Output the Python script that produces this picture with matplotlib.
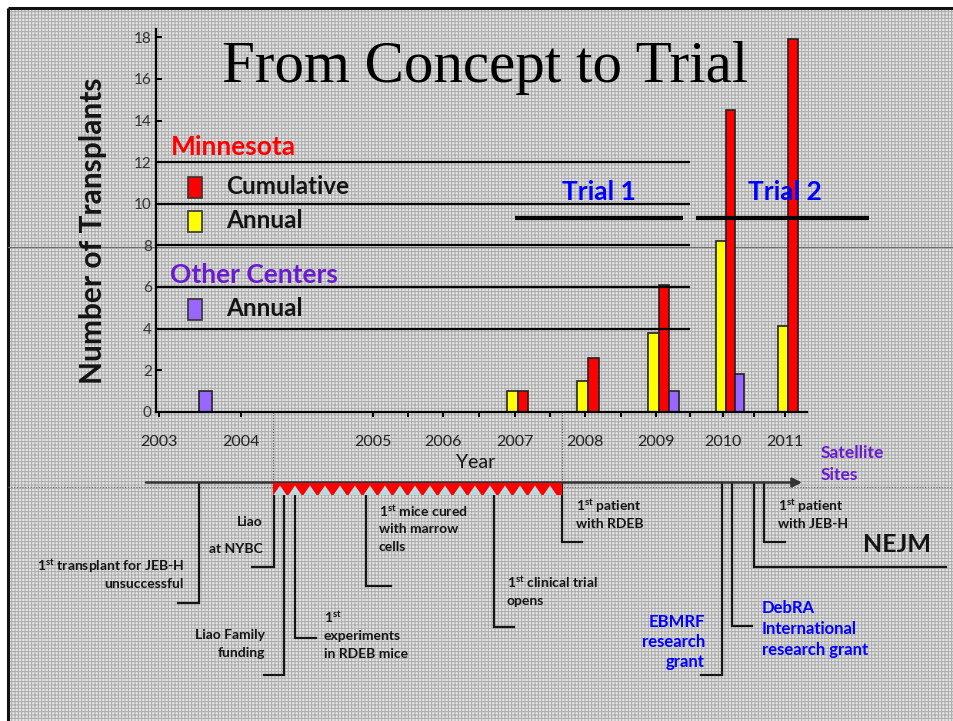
import numpy as np
import matplotlib
matplotlib.use('Agg')
import matplotlib.pyplot as plt
from matplotlib.patches import Rectangle
from matplotlib.collections import PolyCollection

# ---- data ----
years = [2007, 2008, 2009, 2010, 2011]
mn_annual = [1, 1.5, 3.8, 8.2, 4.1]
mn_cumulative = [1, 2.6, 6.1, 14.5, 17.9]
other_years = [2003.3, 2009, 2010]
other_annual = [1, 1, 1.8]

tick_years = [2003, 2004, 2005, 2006, 2007, 2008, 2009, 2010, 2011]
tick_labels = ['2003', '2004', '2005', '2006', '2007', '2008', '2009', '2010', '2011']
half_years = [2005.5, 2006.5, 2007.5, 2008.5, 2009.5, 2010.5]
y_ticks = [0, 2, 4, 6, 8, 10, 12, 14, 16, 18]

box_levels = [12, 10, 8, 6, 4]
trial_names = ['Trial 1', 'Trial 2']
trial_start = [2007.0, 2009.6]
trial_end = [2009.4, 2012.2]
trial_label_x = [2008.2, 2011.0]
trial_level = 9.3

RED = '#ff0000'
YELLOW = '#ffff00'
LAVENDER = '#9966ff'
PURPLE = '#6a1bd1'
BLUE = '#0000ff'
INK = '#141414'

plt.rcParams['font.family'] = ['Lato', 'DejaVu Sans']
plt.rcParams['mathtext.fontset'] = 'custom'
plt.rcParams['mathtext.rm'] = 'Lato'
plt.rcParams['mathtext.bf'] = 'Lato:bold'
plt.rcParams['hatch.color'] = '#ababab'
plt.rcParams['hatch.linewidth'] = 0.7

W, H = 954, 721
fig = plt.figure(figsize=(W / 100, H / 100), dpi=100, facecolor='white')

# background layer in pixel coordinates
bg = fig.add_axes([0, 0, 1, 1], zorder=0)
bg.set_xlim(0, W)
bg.set_ylim(H, 0)
bg.axis('off')
bg.add_patch(Rectangle((8, 8), W, H, facecolor='#e4e4e4', edgecolor='#ababab',
                       hatch='+++++', lw=0))
bg.plot([8, W], [8, 8], color='#111', lw=2.2, solid_capstyle='butt')
bg.plot([8, 8], [8, H], color='#111', lw=2.2, solid_capstyle='butt')
# slide guide lines
bg.plot([8, W], [247, 247], color='#6e6e6e', lw=0.8)
bg.plot([8, W], [487, 487], color='#6e6e6e', lw=0.8, ls=(0, (1, 1.5)))
bg.plot([273, 273], [412, 482], color='#555', lw=0.8, ls=(0, (1, 1.5)))
bg.plot([562, 562], [412, 482], color='#555', lw=0.8, ls=(0, (1, 1.5)))

# main chart
ax = fig.add_axes([156 / W, 1 - 411.7 / H, 651 / W, 382.7 / H], zorder=1)
ax.patch.set_alpha(0)

brk_years = [2002.5, 2003, 2004, 2005, 2006, 2007, 2008, 2009, 2010, 2011, 2013]
brk_pos = [118, 159, 241, 373, 443, 515, 585, 656, 723, 785, 925]


def fwd(x):
	return np.interp(x, brk_years, brk_pos)


def inv(x):
	return np.interp(x, brk_pos, brk_years)


ax.set_xscale('function', functions=(fwd, inv))
ax.set_xlim(2002.963, 2011.314)
ax.set_ylim(0, 18.4)

w = 0.15
off = 0.04
yrs = np.array(years, dtype=float)
ax.bar(yrs + off - w / 2, mn_annual, width=w, color=YELLOW, edgecolor='#222', lw=1.2, zorder=2)
ax.bar(yrs + off + w / 2, mn_cumulative, width=w, color=RED, edgecolor='#222', lw=1.2, zorder=2)
ax.bar(np.array(other_years) + off + 1.5 * w, other_annual, width=w, color=LAVENDER,
       edgecolor='#222', lw=1.2, zorder=2)

ax.hlines(box_levels, 2002.963, 2009.5, color='black', lw=1.6, zorder=3)
for name, a, b, tx in zip(trial_names, trial_start, trial_end, trial_label_x):
	ax.plot([a, b], [trial_level, trial_level], color='black', lw=3, zorder=4,
	        solid_capstyle='butt', clip_on=False)
	ax.text(tx, 10.55, name, color=BLUE, fontsize=19, fontweight='bold',
	        ha='center', va='center', zorder=5, clip_on=False)

for s in ['top', 'right']:
	ax.spines[s].set_visible(False)
for s in ['left', 'bottom']:
	ax.spines[s].set_linewidth(1.6)
	ax.spines[s].set_color('black')
ax.spines['left'].set_bounds(0, 18.4)

ax.set_yticks(y_ticks)
ax.tick_params(axis='y', direction='in', length=4, width=1.4, labelsize=11,
               labelcolor='#333', pad=3)
ax.set_xticks(tick_years)
ax.set_xticklabels(tick_labels)
ax.set_xticks(half_years, minor=True)
ax.tick_params(axis='x', which='both', direction='out', length=3.5, width=1.4,
               labelsize=11.5, labelcolor='#222', pad=13)

ax.set_ylabel('Number of Transplants', fontsize=21.5, fontweight='bold', color=INK)
ax.yaxis.set_label_coords(-0.0753, 0.472)
ax.set_xlabel('Year', fontsize=14, color=INK)
ax.xaxis.set_label_coords(0.4916, -0.1105)

# title
bg.text(485, 82, 'From Concept to Trial', fontsize=42.5, family='Liberation Serif',
        ha='center', va='baseline', color='black')

# pseudo legend
bg.text(171, 147, 'Minnesota', color=RED, fontsize=19, fontweight='bold', va='center')
bg.text(170, 275, 'Other Centers', color=PURPLE, fontsize=19, fontweight='bold', va='center')
for y0, col, lab, ty in [(177, RED, 'Cumulative', 187), (210.5, YELLOW, 'Annual', 220),
                         (298.5, LAVENDER, 'Annual', 308.5)]:
	bg.add_patch(Rectangle((188, y0), 14, 21, facecolor=col, edgecolor='#333', lw=1.2))
	bg.text(226, ty, lab, color=INK, fontsize=17.5, fontweight='bold', va='center')

# timeline
bg.annotate('', xy=(802, 482.5), xytext=(146, 482.5),
            arrowprops=dict(arrowstyle='-|>', color='#333', lw=1.8, mutation_scale=14,
                            shrinkA=0, shrinkB=0))

brackets = [
	(199, 602.7, 178), (274, 566.7, 252), (284, 674.5, 264), (295, 638, 316),
	(366, 586, 391), (494, 626.7, 514), (562, 542, 582), (721.7, 675, 701),
	(731.7, 626, 752), (754, 566.7, 946), (764, 542, 785),
]
for xv, yb, xh in brackets:
	bg.plot([xv, xv, xh], [482.5, yb, yb], color=INK, lw=1.6, solid_joinstyle='miter')

bg.add_patch(Rectangle((273, 482.7), 289, 12.3, facecolor=RED, edgecolor='none', zorder=3))
centers = np.arange(280, 556, 15)
tris = [[(c - 6.5, 495), (c, 485.5), (c + 6.5, 495)] for c in centers]
bg.add_collection(PolyCollection(tris, facecolor='#b5dde0', edgecolor='none', zorder=4))

note = dict(color=INK, fontsize=10, fontweight='bold', va='center')
st = r'$\mathbf{1^{st}}$'
bg.text(184, 566, st + ' transplant for JEB-H', ha='right', **note)
bg.text(184, 584, 'unsuccessful', ha='right', **note)
bg.text(263, 522, 'Liao', ha='right', **note)
bg.text(263, 549, 'at NYBC', ha='right', **note)
bg.text(265, 635, 'Liao Family', ha='right', **note)
bg.text(265, 653, 'funding', ha='right', **note)
bg.text(324, 617, st, ha='left', **note)
bg.text(324, 636, 'experiments', ha='left', **note)
bg.text(324, 654, 'in RDEB mice', ha='left', **note)
bg.text(379, 511, st + ' mice cured', ha='left', **note)
bg.text(379, 529, 'with marrow', ha='left', **note)
bg.text(379, 547, 'cells', ha='left', **note)
bg.text(507, 582, st + ' clinical trial', ha='left', **note)
bg.text(507, 601, 'opens', ha='left', **note)
bg.text(576, 506, st + ' patient', ha='left', **note)
bg.text(576, 523.5, 'with RDEB', ha='left', **note)
bg.text(778, 506, st + ' patient', ha='left', **note)
bg.text(778, 523.5, 'with JEB-H', ha='left', **note)

grant = dict(color=BLUE, fontsize=12, fontweight='bold', va='center')
bg.text(705, 622, 'EBMRF', ha='right', **grant)
bg.text(705, 642, 'research', ha='right', **grant)
bg.text(705, 662, 'grant', ha='right', **grant)
bg.text(762, 608, 'DebRA', ha='left', **grant)
bg.text(762, 629, 'International', ha='left', **grant)
bg.text(762, 650, 'research grant', ha='left', **grant)

bg.text(931, 544, 'NEJM', ha='right', va='center', color=INK, fontsize=18, fontweight='bold')
bg.text(821, 453.5, 'Satellite', ha='left', va='center', color=PURPLE, fontsize=12.5,
        fontweight='bold')
bg.text(821, 475.5, 'Sites', ha='left', va='center', color=PURPLE, fontsize=12.5,
        fontweight='bold')

fig.savefig('out.png', dpi=100, facecolor='white')
